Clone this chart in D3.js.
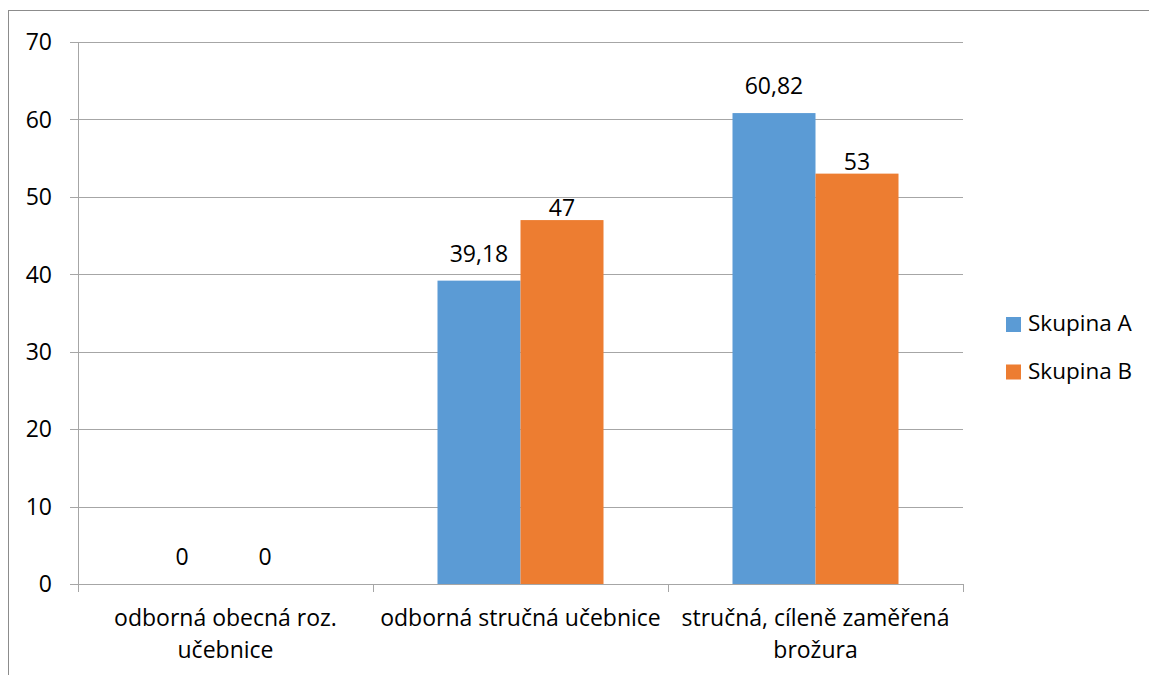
<!DOCTYPE html>
<html>
<head>
<meta charset="utf-8">
<script src="https://cdn.jsdelivr.net/npm/d3@7"></script>
<style>
  html, body { margin: 0; padding: 0; background: #fff; }
  svg { display: block; font-family: "Open Sans", "Noto Sans", sans-serif; }
</style>
</head>
<body>
<svg id="chart" width="1149" height="675"></svg>
<script>
// Chart data
const categories = [
  ["odborná obecná roz.", "učebnice"],
  ["odborná stručná učebnice"],
  ["stručná, cíleně zaměřená", "brožura"]
];
const seriesNames = ["Skupina A", "Skupina B"];
const skupinaA = [0, 39.18, 60.82];
const skupinaB = [0, 47, 53];
const yTicks = [0, 10, 20, 30, 40, 50, 60, 70];

const colors = ["#5B9BD5", "#ED7D31"];
const seriesValues = [skupinaA, skupinaB];

const svg = d3.select("#chart");
const W = 1149, H = 675;
const plot = { left: 78, right: 963, top: 42, bottom: 584 };
const fontSize = 23;

const czech = d3.formatLocale({ decimal: ",", thousands: " ", grouping: [3], currency: ["", " Kč"] });
const fmt = v => czech.format("~g")(v);

// Outer chart border (right and bottom edges fall outside the view)
svg.append("rect")
  .attr("x", 8.5).attr("y", 10.5)
  .attr("width", W + 20).attr("height", H + 20)
  .attr("fill", "none").attr("stroke", "#8c8c8c").attr("stroke-width", 1);

const catKeys = categories.map((c, i) => i);
const x0 = d3.scaleBand().domain(catKeys).range([plot.left, plot.right]).paddingInner(0).paddingOuter(0);
const x1 = d3.scaleBand().domain(d3.range(seriesNames.length))
  .range([0, x0.bandwidth()]).paddingInner(0).paddingOuter(0.777);
const y = d3.scaleLinear().domain([0, 70]).range([plot.bottom, plot.top]);

// Horizontal gridlines with left tick stubs
const yAxis = d3.axisLeft(y).tickValues(yTicks).tickSize(plot.right - plot.left + 8).tickFormat(d => d);
const gy = svg.append("g")
  .attr("transform", `translate(${plot.right},0)`)
  .call(yAxis);
gy.select(".domain").remove();
gy.selectAll(".tick line").attr("stroke", "#a6a6a6").attr("stroke-width", 1)
  .attr("shape-rendering", "crispEdges");
gy.selectAll(".tick text").remove();

// Y tick labels
svg.append("g").selectAll("text").data(yTicks).join("text")
  .attr("x", 52).attr("y", d => y(d))
  .attr("dy", "0.36em")
  .attr("text-anchor", "end")
  .attr("font-size", fontSize).attr("fill", "#000")
  .text(d => d);

// Y axis line
svg.append("line")
  .attr("x1", plot.left + 0.5).attr("x2", plot.left + 0.5)
  .attr("y1", plot.top).attr("y2", plot.bottom)
  .attr("stroke", "#a6a6a6");

// X axis line and category boundary ticks
svg.append("line")
  .attr("x1", plot.left).attr("x2", plot.right + 1)
  .attr("y1", plot.bottom + 0.5).attr("y2", plot.bottom + 0.5)
  .attr("stroke", "#a6a6a6");
const boundaries = catKeys.map(k => x0(k)).concat([x0(catKeys[catKeys.length - 1]) + x0.bandwidth()]);
svg.append("g").selectAll("line").data(boundaries).join("line")
  .attr("x1", d => Math.round(d) + 0.5).attr("x2", d => Math.round(d) + 0.5)
  .attr("y1", plot.bottom).attr("y2", plot.bottom + 8)
  .attr("stroke", "#a6a6a6");

// Bars
const barData = [];
seriesValues.forEach((vals, s) => vals.forEach((v, c) => barData.push({ s, c, v })));
svg.append("g").selectAll("rect").data(barData).join("rect")
  .attr("x", d => x0(d.c) + x1(d.s))
  .attr("y", d => y(d.v))
  .attr("width", x1.bandwidth())
  .attr("height", d => y(0) - y(d.v))
  .attr("fill", d => colors[d.s]);

// Data labels
const labelGap = [19, 4];
svg.append("g").selectAll("text").data(barData).join("text")
  .attr("x", d => x0(d.c) + x1(d.s) + x1.bandwidth() / 2 - (d.v === 0 ? 2 : 0))
  .attr("y", d => y(d.v) - (d.v === 0 ? 19 : labelGap[d.s]))
  .attr("text-anchor", "middle")
  .attr("font-size", fontSize).attr("fill", "#000")
  .text(d => fmt(d.v));

// Category labels
const catG = svg.append("g");
categories.forEach((lines, i) => {
  const t = catG.append("text")
    .attr("x", x0(i) + x0.bandwidth() / 2)
    .attr("y", 626)
    .attr("text-anchor", "middle")
    .attr("font-size", fontSize).attr("fill", "#000");
  lines.forEach((ln, j) => {
    t.append("tspan")
      .attr("x", x0(i) + x0.bandwidth() / 2)
      .attr("dy", j === 0 ? 0 : 32)
      .text(ln);
  });
});

// Legend
const legend = svg.append("g").attr("transform", "translate(1006,317)");
seriesNames.forEach((name, i) => {
  const g = legend.append("g").attr("transform", `translate(0,${i * 47.5})`);
  g.append("rect").attr("x", 0).attr("y", 0).attr("width", 15).attr("height", 15)
    .attr("fill", colors[i]);
  g.append("text").attr("x", 22).attr("y", 14)
    .attr("font-size", 22.5).attr("fill", "#000")
    .text(name);
});
</script>
</body>
</html>
